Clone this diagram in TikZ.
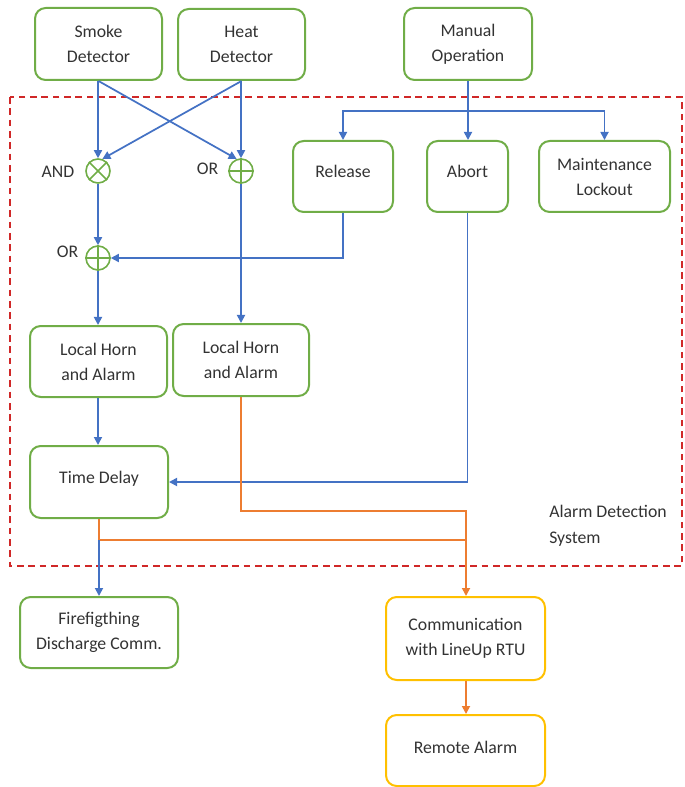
\documentclass[tikz,border=0pt]{standalone}
\usepackage{fontspec}
\setmainfont{Carlito}
\usetikzlibrary{arrows.meta,calc}
\definecolor{gboxc}{HTML}{70AD47}
\definecolor{yboxc}{HTML}{FFC000}
\definecolor{bluec}{HTML}{4472C4}
\definecolor{orangec}{HTML}{ED7D31}
\definecolor{redc}{HTML}{D02828}
\definecolor{textc}{HTML}{333333}
\tikzset{
  gbox/.style={draw=gboxc, line width=1.5pt, rounded corners=8pt, fill=white, align=center, text=textc,
    font=\fontsize{13.3}{18.75}\selectfont, inner sep=0pt},
  ybox/.style={gbox, draw=yboxc},
  gate/.style={draw=gboxc, line width=1.2pt, circle, minimum size=18pt, inner sep=0pt},
  gatelabel/.style={text=textc, font=\fontsize{13.3}{15}\selectfont},
  barrow/.style={draw=bluec, line width=1.3pt, -{Triangle[length=6pt,width=6pt]}},
  oarrow/.style={draw=orangec, line width=1.3pt, -{Triangle[length=6pt,width=6pt]}},
  oline/.style={draw=orangec, line width=1.3pt},
  zone/.style={draw=redc, line width=1.4pt, dash pattern=on 5pt off 3.5pt},
}
\begin{document}
\begin{tikzpicture}[x=0.75pt,y=-0.75pt]
\useasboundingbox (0,0) rectangle (684,787);
% zone
\draw[zone] (10,97) rectangle (682,566);
% boxes
\node[gbox, minimum width=95.25pt, minimum height=54pt] (smoke) at (98.5,44) {Smoke\\Detector};
\node[gbox, minimum width=95.25pt, minimum height=53.25pt] (heat) at (241.5,44.5) {Heat\\Detector};
\node[gbox, minimum width=96pt, minimum height=54pt] (manual) at (468,44) {Manual\\Operation};
\node[gbox, minimum width=75pt, minimum height=53.25pt] (rel) at (343,176.5) {\raisebox{7pt}{Release}};
\node[gbox, minimum width=60.75pt, minimum height=53.25pt] (abort) at (467.5,176.5) {\raisebox{7pt}{Abort}};
\node[gbox, minimum width=98.25pt, minimum height=53.25pt] (mnt) at (604.5,176.5) {Maintenance\\Lockout};
\node[gbox, minimum width=102.75pt, minimum height=53.25pt] (lh1) at (98.5,361.5) {Local Horn\\and Alarm};
\node[gbox, minimum width=102pt, minimum height=54pt] (lh2) at (241,360) {Local Horn\\and Alarm};
\node[gbox, minimum width=103.5pt, minimum height=54pt] (td) at (99,482) {\raisebox{7pt}{Time Delay}};
\node[gbox, minimum width=118.5pt, minimum height=53.25pt] (ff) at (99,632.5) {Firefigthing\\Discharge Comm.};
\node[ybox, minimum width=119.25pt, minimum height=62.25pt] (comm) at (465.5,638.5) {Communication\\with LineUp RTU};
\node[ybox, minimum width=119.25pt, minimum height=53.25pt] (remote) at (465.5,750.5) {\raisebox{5pt}{Remote Alarm}};
% gates
\node[gate] (and) at (98,171) {};
\draw[gboxc, line width=1.2pt] (and.north west) -- (and.south east) (and.north east) -- (and.south west);
\node[gate] (or1) at (241,171) {};
\draw[gboxc, line width=1.2pt] (or1.north) -- (or1.south) (or1.west) -- (or1.east);
\node[gate] (or2) at (98,258) {};
\draw[gboxc, line width=1.2pt] (or2.north) -- (or2.south) (or2.west) -- (or2.east);
\node[gatelabel] (andl) at (58,172) {AND};
\node[gatelabel] (or1l) at (207.5,169) {OR};
\node[gatelabel] (or2l) at (67.5,252) {OR};
% zone label
\node[anchor=west, align=left, text=textc, font=\fontsize{13.3}{19.5}\selectfont, inner sep=0pt] (zl) at (549,526) {Alarm Detection\\System};
% coordinates
\coordinate (mb) at (468,111);
\coordinate (j1) at (466,511);
\coordinate (j2) at (99,540);
\coordinate (j3) at (466,540);
% blue connectors
\draw[barrow] (smoke.south -| and) -- (and.north);
\draw[barrow] (smoke.south) -- (or1.110);
\draw[barrow] (heat.south) -- (and.70);
\draw[barrow] (heat.south -| or1) -- (or1.north);
\draw[barrow] (and.south) -- (or2.north);
\draw[barrow] (or1.south) -- (lh2.north -| or1);
\draw[barrow] (or2.south) -- (lh1.north -| or2);
\draw[barrow] (lh1.south -| or2) -- (td.north -| or2);
\draw[barrow] (manual.south) -- (abort.north -| manual);
\draw[barrow] (mb) -| (rel.north);
\draw[barrow] (mb) -| (mnt.north);
\draw[barrow] (rel.south) |- (or2.east);
\draw[barrow] (abort.south) |- (td.east);
% orange connectors
\draw[oline] (td.south) -- (j2) -- (j3);
\draw[oarrow] (lh2.south) |- (j1) -- (comm.north -| j1);
\draw[barrow] (j2) -- (ff.north);
\draw[oarrow] (comm.south -| j1) -- (remote.north -| j1);
\end{tikzpicture}
\end{document}
